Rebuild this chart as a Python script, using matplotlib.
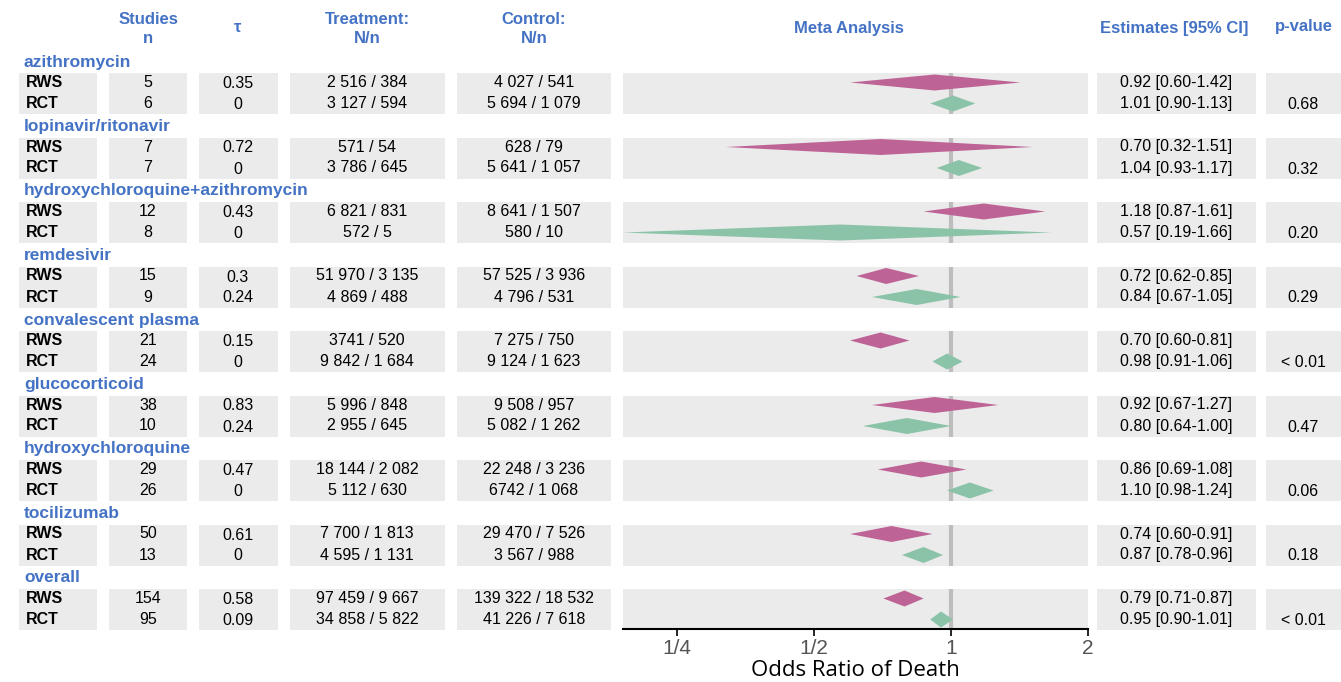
import matplotlib
matplotlib.use("Agg")
import matplotlib.pyplot as plt
from matplotlib.patches import Rectangle

plt.rcParams['font.family'] = ['Liberation Sans', 'DejaVu Sans']

# data
groups = ["azithromycin", "lopinavir/ritonavir", "hydroxychloroquine+azithromycin",
          "remdesivir", "convalescent plasma", "glucocorticoid",
          "hydroxychloroquine", "tocilizumab", "overall"]
rws_n = ["5", "7", "12", "15", "21", "38", "29", "50", "154"]
rct_n = ["6", "7", "8", "9", "24", "10", "26", "13", "95"]
rws_tau = ["0.35", "0.72", "0.43", "0.3", "0.15", "0.83", "0.47", "0.61", "0.58"]
rct_tau = ["0", "0", "0", "0.24", "0", "0.24", "0", "0", "0.09"]
rws_treat = ["2 516 / 384", "571 / 54", "6 821 / 831", "51 970 / 3 135", "3741 / 520",
             "5 996 / 848", "18 144 / 2 082", "7 700 / 1 813", "97 459 / 9 667"]
rct_treat = ["3 127 / 594", "3 786 / 645", "572 / 5", "4 869 / 488", "9 842 / 1 684",
             "2 955 / 645", "5 112 / 630", "4 595 / 1 131", "34 858 / 5 822"]
rws_ctrl = ["4 027 / 541", "628 / 79", "8 641 / 1 507", "57 525 / 3 936", "7 275 / 750",
            "9 508 / 957", "22 248 / 3 236", "29 470 / 7 526", "139 322 / 18 532"]
rct_ctrl = ["5 694 / 1 079", "5 641 / 1 057", "580 / 10", "4 796 / 531", "9 124 / 1 623",
            "5 082 / 1 262", "6742 / 1 068", "3 567 / 988", "41 226 / 7 618"]
rws_est = [(0.92, 0.60, 1.42), (0.70, 0.32, 1.51), (1.18, 0.87, 1.61), (0.72, 0.62, 0.85),
           (0.70, 0.60, 0.81), (0.92, 0.67, 1.27), (0.86, 0.69, 1.08), (0.74, 0.60, 0.91),
           (0.79, 0.71, 0.87)]
rct_est = [(1.01, 0.90, 1.13), (1.04, 0.93, 1.17), (0.57, 0.19, 1.66), (0.84, 0.67, 1.05),
           (0.98, 0.91, 1.06), (0.80, 0.64, 1.00), (1.10, 0.98, 1.24), (0.87, 0.78, 0.96),
           (0.95, 0.90, 1.01)]
pvals = ["0.68", "0.32", "0.20", "0.29", "< 0.01", "0.47", "0.06", "0.18", "< 0.01"]
ticks = [0.25, 0.5, 1, 2]
tick_labels = ["1/4", "1/2", "1", "2"]

W, H = 1341, 682
blue = "#4472C4"
grey = "#EBEBEB"
c_rws = "#BE6396"
c_rct = "#8AC3A7"

fig = plt.figure(figsize=(W / 100, H / 100), dpi=100)
ax = fig.add_axes([0, 0, 1, 1])
ax.set_xlim(0, W)
ax.set_ylim(H, 0)
ax.axis("off")

# column boxes (left, right)
cols = [(19, 97), (109, 187), (199, 278), (290, 445), (457, 611), (1097, 1256), (1266, 1341)]

# headers
hdr = dict(color=blue, fontweight="bold", fontsize=12, ha="center", va="center")
ax.text(148, 29, "Studies\nn", linespacing=1.35, **hdr)
ax.text(238, 27, "τ", **hdr)
ax.text(367, 29, "Treatment:\nN/n", linespacing=1.35, **hdr)
ax.text(534, 29, "Control:\nN/n", linespacing=1.35, **hdr)
ax.text(849, 29, "Meta Analysis", **hdr)
ax.text(1174, 28, "Estimates [95% CI]", **hdr)
ax.text(1304, 27, "p-value", **hdr)

# meta-analysis axes
x0, x1, ybot = 623, 1088, 629
mx = fig.add_axes([x0 / W, (H - ybot) / H, (x1 - x0) / W, ybot / H])
mx.set_xscale("log", base=2)
mx.set_xlim(0.19, 2)
mx.set_ylim(ybot, 0)
mx.patch.set_alpha(0)
for s in ["top", "left", "right"]:
    mx.spines[s].set_visible(False)
mx.spines["bottom"].set_linewidth(1.5)
mx.set_yticks([])
mx.set_xticks(ticks)
mx.set_xticklabels(tick_labels)
mx.minorticks_off()
mx.tick_params(axis="x", length=5, width=1.2, labelsize=15, labelcolor="#555555", pad=2)
ax.text(855, 670, "Odds Ratio of Death", fontsize=16, ha="center", va="center",
        family=["Open Sans", "DejaVu Sans"])

pitch = 64.5
dh = 8
for g, name in enumerate(groups):
    hy = 62 + pitch * g
    y1, y2 = hy + 20.5, hy + 41.5
    top, bot = hy + 11, hy + 52
    for (l, r) in cols:
        ax.add_patch(Rectangle((l, top), r - l, bot - top, color=grey, lw=0, zorder=0))
    mx.axhspan(top, bot, color=grey, lw=0, zorder=0)
    mx.vlines(1, top, bot, color="#BDBDBD", lw=3, zorder=1)

    ax.text(24, hy, name, color=blue, fontweight="bold", fontsize=12.5, va="center")
    for y, lab, n, tau, tr, ct, est in [
        (y1, "RWS", rws_n[g], rws_tau[g], rws_treat[g], rws_ctrl[g], rws_est[g]),
        (y2, "RCT", rct_n[g], rct_tau[g], rct_treat[g], rct_ctrl[g], rct_est[g]),
    ]:
        kw = dict(fontsize=11.5, va="center", ha="center")
        ax.text(26, y, lab, fontweight="bold", fontsize=11.5, va="center")
        ax.text(148, y, n, **kw)
        ax.text(238, y + 1, tau, **kw)
        ax.text(367, y, tr, **kw)
        ax.text(534, y, ct, **kw)
        ax.text(1176, y, "%.2f [%.2f-%.2f]" % est, **kw)
    ax.text(1303, y2 + 1, pvals[g], fontsize=11.5, va="center", ha="center")

    for y, est, c in [(y1, rws_est[g], c_rws), (y2, rct_est[g], c_rct)]:
        e, lo, hi = est
        mx.fill([lo, e, hi, e], [y, y - dh, y, y + dh], color=c, lw=0, zorder=2)

fig.savefig("out.png", dpi=100)
